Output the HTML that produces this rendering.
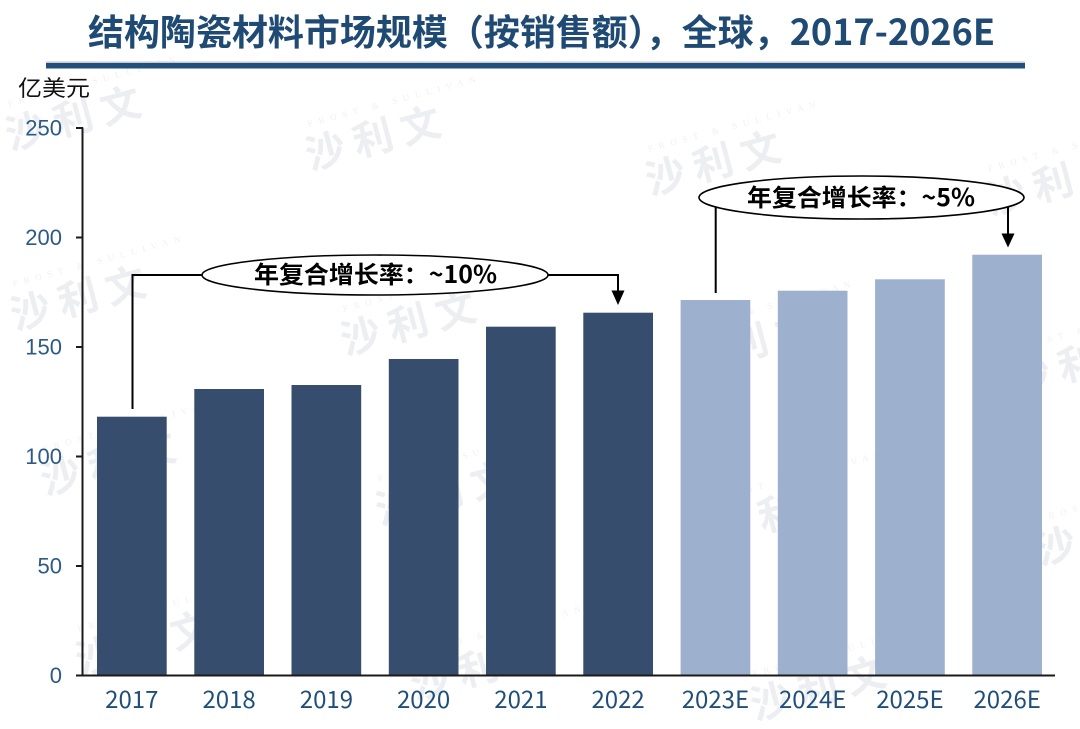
<!DOCTYPE html>
<html>
<head>
<meta charset="utf-8">
<style>
  html, body { margin:0; padding:0; background:#ffffff; }
  body { width:1080px; height:729px; overflow:hidden; }
  svg { display:block; }
  .cjk { font-family: "Noto Sans CJK SC", "Liberation Sans", sans-serif; }
  .num { font-family: "Liberation Sans", sans-serif; }
  .wm { font-family: "Noto Sans CJK SC", "Liberation Sans", sans-serif; fill:#eceef2; font-weight:700; }
  .wms { font-family: "Liberation Serif", serif; fill:#eef0f3; font-size:9px; letter-spacing:6px; }
</style>
</head>
<body>
<svg width="1080" height="729" viewBox="0 0 1080 729" xmlns="http://www.w3.org/2000/svg">
  <rect x="0" y="0" width="1080" height="729" fill="#ffffff"/>

  <!-- watermarks -->
  <g>
    <g transform="translate(10,150) rotate(-15)"><text class="wm" font-size="40" x="0" y="0">沙 利 文</text><text class="wms" x="10" y="-42">FROST &amp; SULLIVAN</text></g>
    <g transform="translate(310,170) rotate(-15)"><text class="wm" font-size="40" x="0" y="0">沙 利 文</text><text class="wms" x="10" y="-42">FROST &amp; SULLIVAN</text></g>
    <g transform="translate(650,195) rotate(-15)"><text class="wm" font-size="40" x="0" y="0">沙 利 文</text><text class="wms" x="10" y="-42">FROST &amp; SULLIVAN</text></g>
    <g transform="translate(990,215) rotate(-15)"><text class="wm" font-size="40" x="0" y="0">沙 利 文</text><text class="wms" x="10" y="-42">FROST &amp; SULLIVAN</text></g>
    <g transform="translate(15,330) rotate(-15)"><text class="wm" font-size="40" x="0" y="0">沙 利 文</text><text class="wms" x="10" y="-42">FROST &amp; SULLIVAN</text></g>
    <g transform="translate(345,355) rotate(-15)"><text class="wm" font-size="40" x="0" y="0">沙 利 文</text><text class="wms" x="10" y="-42">FROST &amp; SULLIVAN</text></g>
    <g transform="translate(685,375) rotate(-15)"><text class="wm" font-size="40" x="0" y="0">沙 利 文</text><text class="wms" x="10" y="-42">FROST &amp; SULLIVAN</text></g>
    <g transform="translate(1015,395) rotate(-15)"><text class="wm" font-size="40" x="0" y="0">沙 利 文</text><text class="wms" x="10" y="-42">FROST &amp; SULLIVAN</text></g>
    <g transform="translate(45,495) rotate(-15)"><text class="wm" font-size="40" x="0" y="0">沙 利 文</text><text class="wms" x="10" y="-42">FROST &amp; SULLIVAN</text></g>
    <g transform="translate(380,525) rotate(-15)"><text class="wm" font-size="40" x="0" y="0">沙 利 文</text><text class="wms" x="10" y="-42">FROST &amp; SULLIVAN</text></g>
    <g transform="translate(715,545) rotate(-15)"><text class="wm" font-size="40" x="0" y="0">沙 利 文</text><text class="wms" x="10" y="-42">FROST &amp; SULLIVAN</text></g>
    <g transform="translate(1040,565) rotate(-15)"><text class="wm" font-size="40" x="0" y="0">沙 利 文</text><text class="wms" x="10" y="-42">FROST &amp; SULLIVAN</text></g>
    <g transform="translate(80,675) rotate(-15)"><text class="wm" font-size="40" x="0" y="0">沙 利 文</text><text class="wms" x="10" y="-42">FROST &amp; SULLIVAN</text></g>
    <g transform="translate(415,700) rotate(-15)"><text class="wm" font-size="40" x="0" y="0">沙 利 文</text><text class="wms" x="10" y="-42">FROST &amp; SULLIVAN</text></g>
    <g transform="translate(755,720) rotate(-15)"><text class="wm" font-size="40" x="0" y="0">沙 利 文</text><text class="wms" x="10" y="-42">FROST &amp; SULLIVAN</text></g>
  </g>

  <!-- title -->
  <text class="cjk" x="541.5" y="45" text-anchor="middle" font-size="36" font-weight="700" fill="#1f4a73" textLength="907" lengthAdjust="spacingAndGlyphs">结构陶瓷材料市场规模（按销售额），全球，2017-2026E</text>
  <rect x="46" y="61.5" width="979" height="1.5" fill="#c3cbd6"/>
  <rect x="46" y="63" width="979" height="5.5" fill="#23507a"/>

  <!-- unit label -->
  <text class="cjk" x="18" y="96" font-size="22" fill="#111111" textLength="72" lengthAdjust="spacingAndGlyphs">亿美元</text>

  <!-- bars -->
  <g fill="#374d6d">
    <rect x="97"   y="416.7" width="69.7" height="258.8"/>
    <rect x="194.3" y="389"  width="69.7" height="286.5"/>
    <rect x="291.5" y="385"  width="69.7" height="290.5"/>
    <rect x="388.8" y="359"  width="69.7" height="316.5"/>
    <rect x="486"  y="326.7" width="69.7" height="348.8"/>
    <rect x="583.3" y="312.7" width="69.7" height="362.8"/>
  </g>
  <g fill="#9db0cd">
    <rect x="680.6" y="300"   width="69.7" height="375.5"/>
    <rect x="777.8" y="290.7" width="69.7" height="384.8"/>
    <rect x="875.1" y="279.3" width="69.7" height="396.2"/>
    <rect x="972.3" y="254.7" width="69.7" height="420.8"/>
  </g>

  <!-- axes -->
  <g stroke="#1a1a1a" stroke-width="2" fill="none">
    <line x1="82.5" y1="127.5" x2="82.5" y2="676"/>
    <line x1="76" y1="675.5" x2="1055" y2="675.5"/>
    <line x1="76" y1="128" x2="83" y2="128"/>
    <line x1="76" y1="237.5" x2="83" y2="237.5"/>
    <line x1="76" y1="347" x2="83" y2="347"/>
    <line x1="76" y1="456.5" x2="83" y2="456.5"/>
    <line x1="76" y1="566" x2="83" y2="566"/>
  </g>

  <!-- y labels -->
  <g class="num" font-size="22" fill="#2c5a85" text-anchor="end">
    <text x="62" y="135.5">250</text>
    <text x="62" y="245">200</text>
    <text x="62" y="354.5">150</text>
    <text x="62" y="464">100</text>
    <text x="62" y="573.5">50</text>
    <text x="62" y="683">0</text>
  </g>

  <!-- x labels -->
  <g class="cjk" font-size="24" fill="#1f4e79" text-anchor="middle" font-weight="400">
    <text x="131.8" y="708">2017</text>
    <text x="229.1" y="708">2018</text>
    <text x="326.4" y="708">2019</text>
    <text x="423.6" y="708">2020</text>
    <text x="520.9" y="708">2021</text>
    <text x="618.1" y="708">2022</text>
    <text x="715.4" y="708">2023E</text>
    <text x="812.7" y="708">2024E</text>
    <text x="909.9" y="708">2025E</text>
    <text x="1007.2" y="708">2026E</text>
  </g>

  <!-- CAGR annotation 1 -->
  <g stroke="#000" stroke-width="2" fill="none">
    <polyline points="132.5,409 132.5,275 203,275"/>
    <polyline points="547,275 618,275 618,292"/>
  </g>
  <polygon points="611.5,290.5 624.5,290.5 618,305" fill="#000"/>
  <ellipse cx="375" cy="275" rx="173" ry="20" fill="#ffffff" stroke="#000" stroke-width="1.6"/>
  <text class="cjk" x="375.5" y="283" text-anchor="middle" font-size="24" font-weight="700" fill="#000" textLength="243" lengthAdjust="spacingAndGlyphs">年复合增长率：~10%</text>

  <!-- CAGR annotation 2 -->
  <g stroke="#000" stroke-width="2" fill="none">
    <line x1="715.7" y1="205" x2="715.7" y2="293"/>
    <line x1="1008" y1="205" x2="1008" y2="235"/>
  </g>
  <polygon points="1001.5,233.5 1014.5,233.5 1008,247.5" fill="#000"/>
  <ellipse cx="861.5" cy="197.5" rx="162.5" ry="21.5" fill="#ffffff" stroke="#000" stroke-width="1.6"/>
  <text class="cjk" x="861" y="206" text-anchor="middle" font-size="24" font-weight="700" fill="#000" textLength="228" lengthAdjust="spacingAndGlyphs">年复合增长率：~5%</text>
</svg>
</body>
</html>
